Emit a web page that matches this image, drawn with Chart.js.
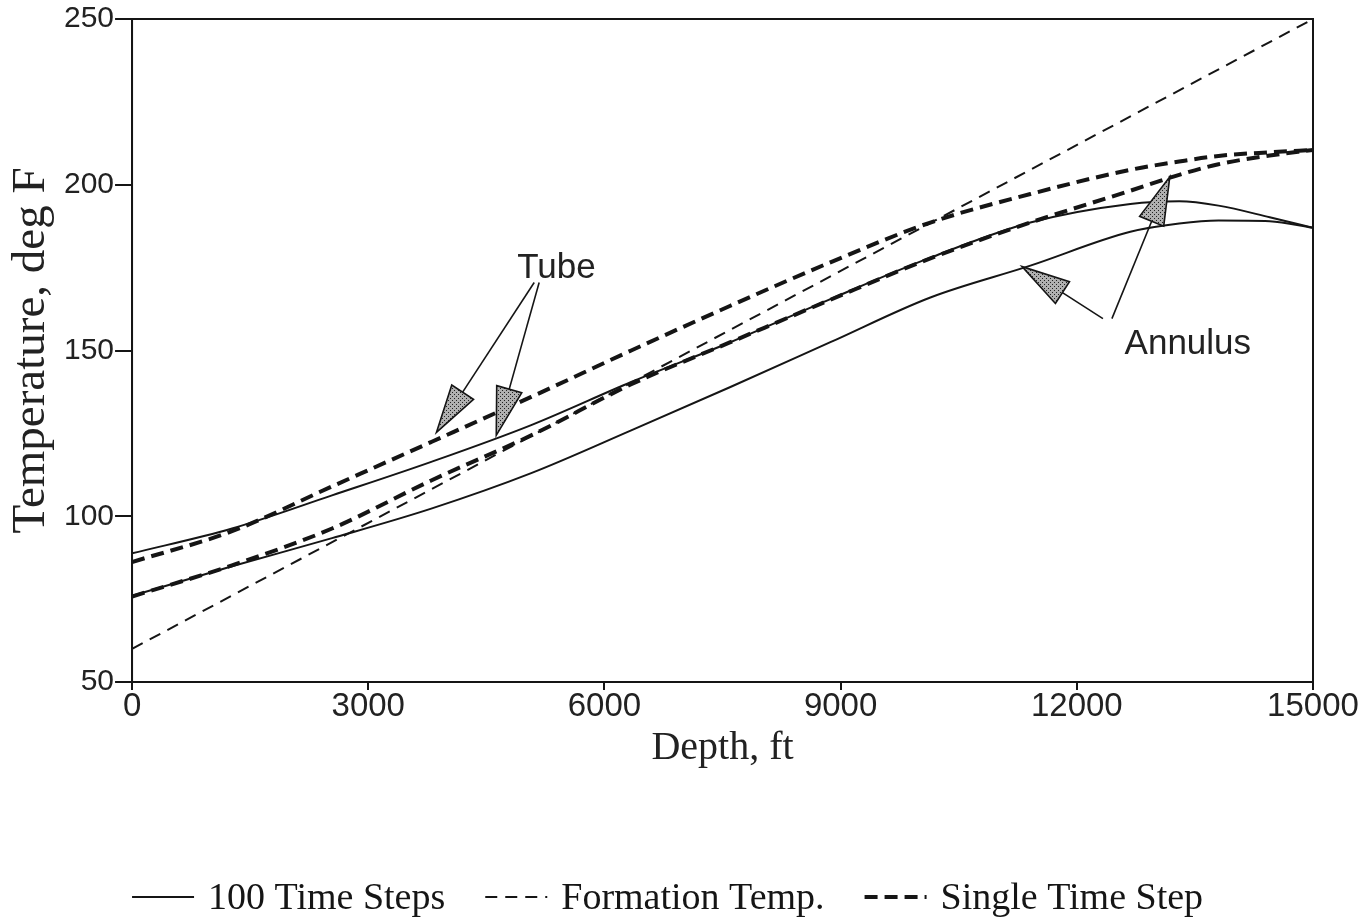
<!DOCTYPE html>
<html>
<head>
<meta charset="utf-8">
<script src="https://cdn.jsdelivr.net/npm/chart.js@4.4.0/dist/chart.umd.min.js"></script>
<style>
  html, body { margin: 0; padding: 0; background: #fff; }
  #wrap { width: 1364px; height: 921px; }
</style>
</head>
<body>
<div id="wrap"><canvas id="tempChart"></canvas></div>
<script>
// depth stations (ft)
const depth = [0, 1270, 2540, 3800, 5070, 6340, 7600, 8870, 10140, 11410, 12680, 13300, 13800, 14450, 15000];

// 100 time steps (solid)
const tube100 = [88.8, 96.3, 106.3, 116.4, 127.5, 140.5, 152.5, 165.5, 178, 188.6, 194.2, 195, 193.7, 190.2, 187];
const annulus100 = [76, 84.9, 93.4, 102.3, 113, 125.9, 139, 152.5, 166, 175.6, 185.8, 188.3, 189.2, 189, 187];

// single time step (heavy dash)
const tubeSingle = [86.2, 95.5, 109, 122.4, 136, 150, 163.5, 176.6, 188.6, 197.2, 204.5, 207, 208.7, 209.8, 210.5];
const annulusSingle = [75.8, 85.2, 96.3, 110.8, 124.4, 139.8, 152.5, 165.3, 177.8, 188.6, 198.2, 203, 206.2, 208.8, 210.5];

// formation temperature (straight line)
const formationDepth = [0, 15000];
const formation = [60, 250];

const xTicks = [0, 3000, 6000, 9000, 12000, 15000];
const yTicks = [50, 100, 150, 200, 250];

// callouts, in data units [depth, temp]
const noteLabels = [
    { text: "Tube", at: [5390, 174.7] },
    { text: "Annulus", at: [13410, 151.8] }
];
const noteArrows = [
    [[5108, 170.5], [3866, 125.3]],
    [[5171, 170.5], [4626, 124.4]],
    [[12332, 159.6], [11305, 175.3]],
    [[12446, 159.6], [13181, 202.4]]
];

const ink = "#151515";
const serif = "'Liberation Serif', 'Times New Roman', serif";
const sans = "'Liberation Sans', Arial, sans-serif";

const pts = (xs, ys) => xs.map((d, i) => ({ x: d, y: ys[i] }));

const solidLine = { borderColor: ink, borderWidth: 2, pointRadius: 0, fill: false, cubicInterpolationMode: "monotone" };
const heavyDash = { borderColor: ink, borderWidth: 4, borderDash: [13, 7], pointRadius: 0, fill: false, cubicInterpolationMode: "monotone" };

// stippled grey fill for the arrow heads
const makeStipple = function() {
    const c = document.createElement("canvas");
    c.width = 4; c.height = 4;
    const g = c.getContext("2d");
    g.fillStyle = "#b0b0b0";
    g.fillRect(0, 0, 4, 4);
    g.fillStyle = "#222";
    g.fillRect(0, 0, 1, 1);
    g.fillRect(2, 2, 1, 1);
    return c;
};

const drawArrow = (ctx, x1, y1, x2, y2, fillPat) => {
    const ang = Math.atan2(y2 - y1, x2 - x1);
    const headLen = 48, headHalf = 13;
    const bx = x2 - headLen * Math.cos(ang), by = y2 - headLen * Math.sin(ang);
    ctx.beginPath();
    ctx.moveTo(x1, y1);
    ctx.lineTo(bx, by);
    ctx.stroke();
    const nx = -Math.sin(ang) * headHalf, ny = Math.cos(ang) * headHalf;
    ctx.beginPath();
    ctx.moveTo(x2, y2);
    ctx.lineTo(bx + nx, by + ny);
    ctx.lineTo(bx - nx, by - ny);
    ctx.closePath();
    ctx.fillStyle = fillPat;
    ctx.fill();
    ctx.stroke();
};

// frame, callouts and the bottom legend
const extras = {
    id: "extras",
    afterDatasetsDraw(chart) {
        const { ctx, chartArea: a, scales: { x, y } } = chart;
        ctx.save();
        ctx.strokeStyle = ink;
        ctx.lineWidth = 2;
        ctx.setLineDash([]);
        ctx.strokeRect(a.left, a.top, a.right - a.left, a.bottom - a.top);

        const pat = ctx.createPattern(makeStipple(), "repeat");
        ctx.lineWidth = 1.6;
        noteArrows.forEach(ar => {
            drawArrow(ctx, x.getPixelForValue(ar[0][0]), y.getPixelForValue(ar[0][1]),
                x.getPixelForValue(ar[1][0]), y.getPixelForValue(ar[1][1]), pat);
        });

        ctx.fillStyle = "#222";
        ctx.font = "35px " + sans;
        ctx.textAlign = "center";
        ctx.textBaseline = "middle";
        noteLabels.forEach(n => {
            ctx.fillText(n.text, x.getPixelForValue(n.at[0]), y.getPixelForValue(n.at[1]));
        });

        // legend: first three datasets carry the legend entries
        const lineW = 62, gapText = 14, gapItem = 40;
        const ly = chart.height - 24;
        let lx = a.left;
        ctx.font = "38px " + serif;
        ctx.textAlign = "left";
        ctx.fillStyle = ink;
        chart.data.datasets.slice(0, 3).forEach(ds => {
            ctx.beginPath();
            ctx.lineWidth = ds.borderWidth;
            ctx.setLineDash(ds.borderDash || []);
            ctx.moveTo(lx, ly);
            ctx.lineTo(lx + lineW, ly);
            ctx.stroke();
            ctx.setLineDash([]);
            lx += lineW + gapText;
            ctx.fillText(ds.label, lx, ly + 2);
            lx += ctx.measureText(ds.label).width + gapItem;
        });
        ctx.restore();
    }
};

new Chart(document.getElementById("tempChart"), {
    type: "line",
    data: {
        datasets: [
            Object.assign({ label: "100 Time Steps", data: pts(depth, tube100) }, solidLine),
            { label: "Formation Temp.", data: pts(formationDepth, formation), borderColor: ink, borderWidth: 2, borderDash: [12, 8], pointRadius: 0, fill: false, tension: 0 },
            Object.assign({ label: "Single Time Step", data: pts(depth, tubeSingle) }, heavyDash),
            Object.assign({ label: "100 Time Steps (annulus)", data: pts(depth, annulus100) }, solidLine),
            Object.assign({ label: "Single Time Step (annulus)", data: pts(depth, annulusSingle) }, heavyDash)
        ]
    },
    options: {
        responsive: true,
        maintainAspectRatio: false,
        animation: false,
        layout: { padding: { left: 5, right: 51, top: 0, bottom: 48 } },
        plugins: {
            legend: { display: false },
            tooltip: { enabled: false }
        },
        scales: {
            x: {
                type: "linear",
                min: 0,
                max: 15000,
                afterBuildTicks: scale => { scale.ticks = xTicks.map(v => ({ value: v })); },
                grid: { display: true, drawOnChartArea: false, drawTicks: true, tickLength: 8, color: ink, lineWidth: 2 },
                border: { display: true, color: ink, width: 2 },
                ticks: {
                    color: "#222",
                    padding: 0,
                    maxRotation: 0,
                    font: { family: "'Liberation Sans Narrow', 'Arial Narrow', " + sans, size: 33, lineHeight: 1 },
                    callback: v => String(v)
                },
                title: {
                    display: true,
                    text: "Depth, ft",
                    color: "#222",
                    font: { family: serif, size: 40, lineHeight: 1 },
                    padding: { top: 5, bottom: 105 }
                }
            },
            y: {
                type: "linear",
                min: 50,
                max: 250,
                afterBuildTicks: scale => { scale.ticks = yTicks.map(v => ({ value: v })); },
                grid: { display: true, drawOnChartArea: false, drawTicks: true, tickLength: 17, color: ink, lineWidth: 2 },
                border: { display: true, color: ink, width: 2 },
                ticks: {
                    color: "#222",
                    padding: 1,
                    font: { family: sans, size: 30, lineHeight: 1.2 }
                },
                title: {
                    display: true,
                    text: "Temperature, deg F",
                    color: "#222",
                    font: { family: serif, size: 47, lineHeight: 1 },
                    padding: { top: 3, bottom: 8 }
                }
            }
        }
    },
    plugins: [extras]
});
</script>
</body>
</html>
